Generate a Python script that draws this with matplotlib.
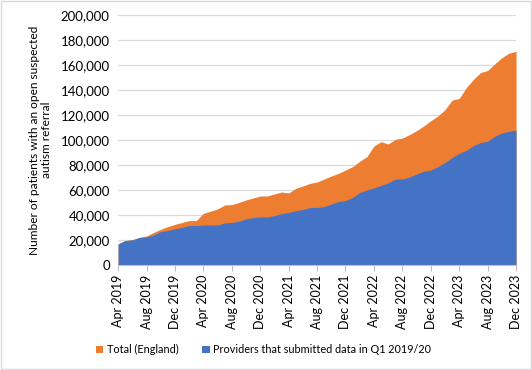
import matplotlib
matplotlib.use("Agg")
import matplotlib.pyplot as plt
import numpy as np
import pandas as pd

# monthly, Apr 2019 .. Dec 2023
months = pd.date_range("2019-04-01", "2023-12-01", freq="MS")

total_england = [
    16.8, 19.5, 20.3, 22.0, 23.2, 26.0, 28.5, 30.7, 32.5, 34.0, 35.5, 35.5,
    41.3, 43.0, 44.8, 48.0, 48.3, 50.0, 52.0, 53.6, 55.2, 55.2, 56.8, 58.4,
    57.6, 61.3, 63.2, 65.3, 66.4, 68.8, 71.2, 73.3, 76.0, 78.7, 83.0, 86.7,
    95.2, 98.7, 96.8, 100.5, 101.6, 104.3, 107.5, 111.2, 115.5, 119.2, 124.3, 132.0,
    133.3, 142.0, 148.5, 154.0, 155.7, 161.0, 165.9, 169.6, 171.0,
]
providers_q1 = [
    16.8, 19.5, 20.0, 22.0, 22.4, 24.0, 26.7, 27.5, 29.0, 30.0, 31.5, 31.5,
    32.0, 32.0, 32.0, 33.6, 34.0, 35.0, 36.8, 38.0, 38.4, 38.4, 39.5, 41.0,
    42.0, 43.5, 44.3, 46.0, 46.0, 46.7, 48.8, 50.7, 51.5, 54.0, 58.0, 60.0,
    61.6, 63.7, 65.6, 68.8, 68.8, 70.4, 72.8, 75.0, 76.0, 78.7, 82.0, 86.0,
    89.3, 91.7, 95.5, 98.0, 99.0, 103.0, 105.6, 107.0, 108.0,
]
total_england = np.array(total_england) * 1000
providers_q1 = np.array(providers_q1) * 1000

tick_labels = [d.strftime("%b %Y") for d in months[::4]]

plt.rcParams["font.family"] = ["Lato", "DejaVu Sans"]

fig = plt.figure(figsize=(5.32, 3.70), dpi=100)
ax = fig.add_axes([0.222, 0.284, 0.748, 0.675])

x = np.arange(len(months))
ax.fill_between(x, 0, total_england, color="#ED7D31", linewidth=0, label="Total (England)")
ax.fill_between(x, 0, providers_q1, color="#4472C4", linewidth=0,
                label="Providers that submitted data in Q1 2019/20")

ax.set_xlim(0, len(months) - 1)
ax.set_ylim(0, 200000)
ax.set_yticks(np.arange(0, 200001, 20000))
ax.yaxis.set_major_formatter(matplotlib.ticker.FuncFormatter(lambda v, p: f"{int(v):,}"))
ax.set_xticks(x[::4])
ax.set_xticklabels(tick_labels, rotation=90, fontsize=9)
ax.tick_params(axis="y", length=0, labelsize=9.5, pad=6)
ax.tick_params(axis="x", length=4, color="#BFBFBF", pad=3)

ax.grid(axis="y", color="#D9D9D9", linewidth=0.9)
ax.set_axisbelow(True)
for s in ["top", "right", "left"]:
    ax.spines[s].set_visible(False)
ax.spines["bottom"].set_color("#BFBFBF")

ax.set_ylabel("Number of patients with an open suspected\nautism referral", fontsize=8.6, labelpad=6)

handles, labels = ax.get_legend_handles_labels()
fig.legend(handles, labels, loc="center", bbox_to_anchor=(0.495, 0.055), ncol=2, frameon=False,
           fontsize=7.8, handlelength=0.7, handleheight=0.7, handletextpad=0.3, columnspacing=2.2)

fig.patches.append(matplotlib.patches.Rectangle((0.002, 0.003), 0.996, 0.994, transform=fig.transFigure,
                                                fill=False, edgecolor="#D9D9D9", linewidth=1))

fig.savefig("out.png", dpi=100)
